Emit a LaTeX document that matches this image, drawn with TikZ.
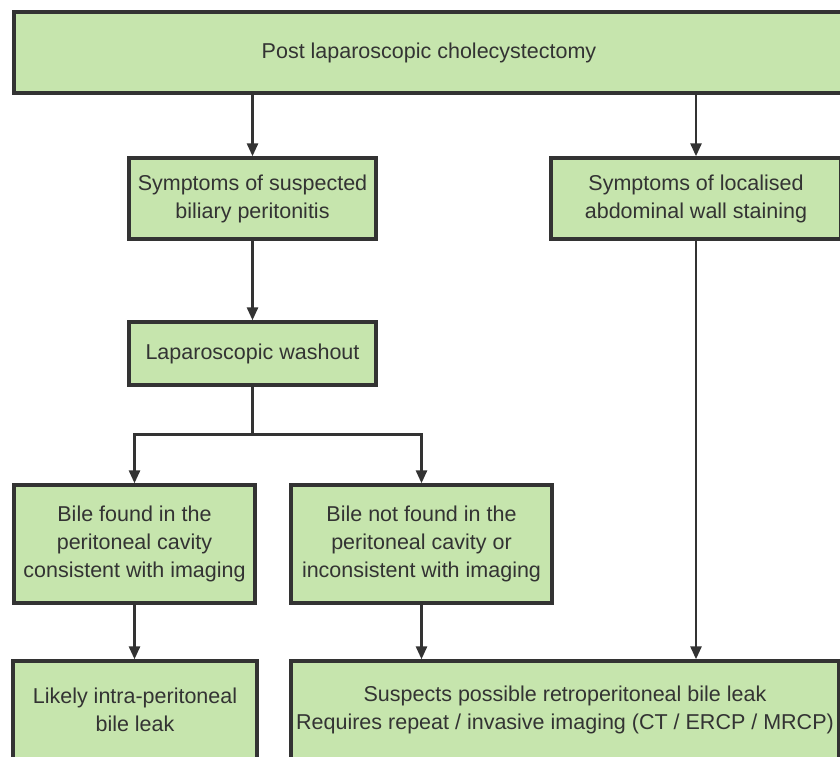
\documentclass[tikz,border=0pt]{standalone}
\usepackage{fontspec}
\setmainfont{Liberation Sans}
\usetikzlibrary{arrows.meta}
\definecolor{boxgreen}{HTML}{C6E5AD}
\definecolor{linegray}{HTML}{333333}
\begin{document}
\begin{tikzpicture}[x=0.5pt,y=-0.5pt,
  box/.style={draw=linegray, line width=1.7pt, fill=boxgreen, text=linegray,
    align=center, inner sep=0pt, font=\fontsize{10.75}{14}\selectfont},
  link/.style={draw=linegray, line width=1.35pt, -{Triangle[length=6.5pt,width=5.5pt]}}]
\useasboundingbox (0,0) rectangle (840,756);
\clip (0,0) rectangle (840,756);
\node[box, minimum width=415pt, minimum height=40.5pt] (post) at (429,52.5) {Post laparoscopic cholecystectomy};
\node[box, minimum width=123.5pt, minimum height=40.5pt] (susp) at (252.5,198.5) {Symptoms of suspected\\biliary peritonitis};
\node[box, minimum width=145pt, minimum height=40.5pt] (local) at (696,198.5) {Symptoms of localised\\abdominal wall staining};
\node[box, minimum width=123.5pt, minimum height=31.5pt] (wash) at (252.5,353.5) {Laparoscopic washout};
\node[box, minimum width=120.5pt, minimum height=59pt] (found) at (134.5,544) {Bile found in the\\peritoneal cavity\\consistent with imaging};
\node[box, minimum width=130.5pt, minimum height=59pt] (notfound) at (421.5,544) {Bile not found in the\\peritoneal cavity or\\inconsistent with imaging};
\node[box, minimum width=122pt, minimum height=49pt] (likely) at (135,710) {Likely intra-peritoneal\\bile leak};
\node[box, minimum width=274pt, minimum height=49pt] (retro) at (565,710) {Suspects possible retroperitoneal bile leak\\Requires repeat / invasive imaging (CT / ERCP / MRCP)};
\draw[link] (post.south -| susp.north) -- (susp.north);
\draw[link] (post.south -| local.north) -- (local.north);
\draw[link] (susp.south) -- (wash.north);
\draw[link] (wash.south) -- ++(0,48) -| (found.north);
\draw[link] (wash.south) -- ++(0,48) -| (notfound.north);
\draw[link] (found.south) -- (found.south |- likely.north);
\draw[link] (notfound.south) -- (notfound.south |- retro.north);
\draw[link] (local.south) -- (local.south |- retro.north);
\end{tikzpicture}
\end{document}
